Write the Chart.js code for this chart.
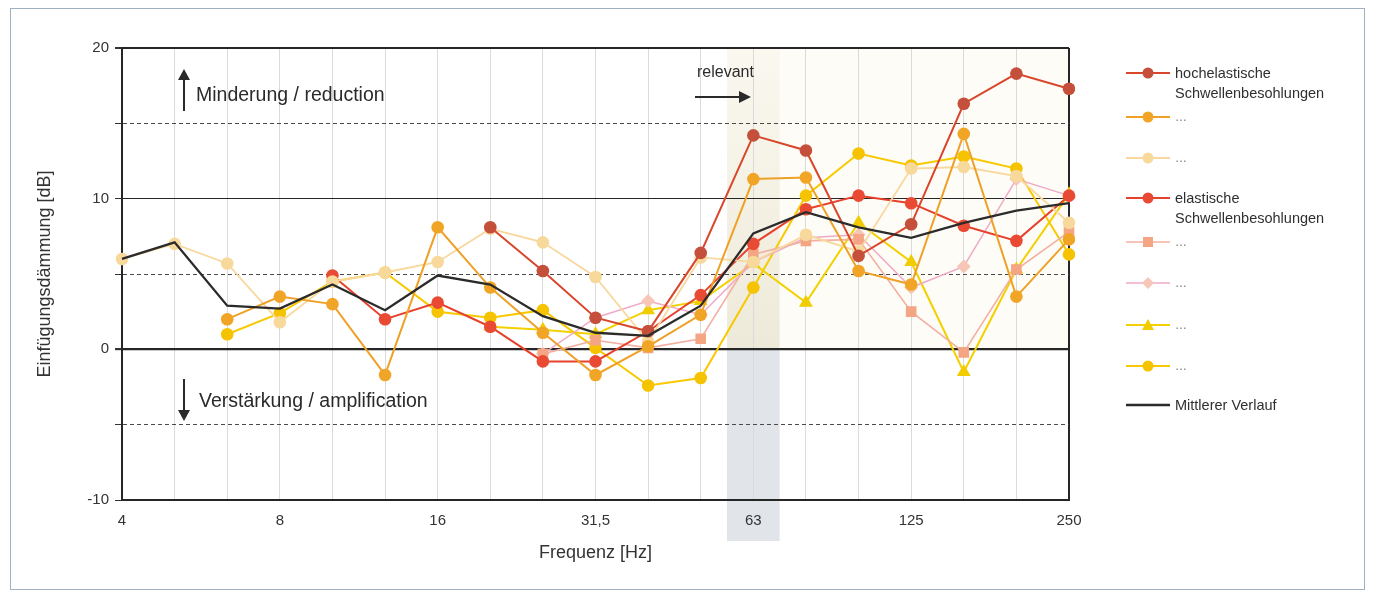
<!DOCTYPE html>
<html>
<head>
<meta charset="utf-8">
<script src="https://cdn.jsdelivr.net/npm/chart.js@4/dist/chart.umd.min.js"></script>
<style>
  html, body { margin: 0; padding: 0; background: #ffffff; }
  #wrap { position: relative; width: 1376px; height: 595px; overflow: hidden; font-family: "Liberation Sans", Arial, sans-serif; color: #2a2a2a; }
  #frame { position: absolute; left: 10px; top: 8px; width: 1355px; height: 582px; border: 1px solid #9fb0c2; box-sizing: border-box; pointer-events: none; }
  canvas { position: absolute; left: 0; top: 0; }
  .ann { position: absolute; white-space: nowrap; color: #2a2a2a; }
  .leg { position: absolute; left: 1175px; font-size: 14.5px; color: #2f2f2f; white-space: nowrap; line-height: 20px; }
  .legdots { color: #777; font-size: 12px; }
  svg.sample { position: absolute; left: 1124px; width: 48px; height: 16px; }
  svg.arrow { position: absolute; }
</style>
</head>
<body>
<div id="wrap">
  <canvas id="c" width="1376" height="595"></canvas>
  <div id="frame"></div>
  <div class="ann" style="left:196px; top:83px; font-size:19.5px;">Minderung / reduction</div>
  <div class="ann" style="left:199px; top:389px; font-size:19.5px;">Verstärkung / amplification</div>
  <div class="ann" style="left:697px; top:63px; font-size:16px;">relevant</div>
  <svg class="arrow" style="left:176px; top:66px;" width="16" height="46"><line x1="8" y1="12" x2="8" y2="45" stroke="#2a2a2a" stroke-width="2"/><polygon points="2,14 14,14 8,3" fill="#2a2a2a"/></svg>
  <svg class="arrow" style="left:176px; top:378px;" width="16" height="46"><line x1="8" y1="1" x2="8" y2="34" stroke="#2a2a2a" stroke-width="2"/><polygon points="2,32 14,32 8,43" fill="#2a2a2a"/></svg>
  <svg class="arrow" style="left:694px; top:90px;" width="60" height="14"><line x1="1" y1="7" x2="48" y2="7" stroke="#2a2a2a" stroke-width="2"/><polygon points="45,1 45,13 57,7" fill="#2a2a2a"/></svg>
  <div id="legend"></div>
</div>
<script>
// ---- data ----
const categories = ['4','5','6,3','8','10','12,5','16','20','25','31,5','40','50','63','80','100','125','160','200','250'];
const xTickLabels = ['4','8','16','31,5','63','125','250'];
const yTickLabels = [-10, 0, 10, 20];
const relevantBand = '63';

const hochelastisch = [null,null,null,null,null,null,null, 8.1, 5.2, 2.1, 1.2, 6.4, 14.2, 13.2, 6.2, 8.3, 16.3, 18.3, 17.3];
const hochOrange    = [null,null, 2.0, 3.5, 3.0, -1.7, 8.1, 4.1, 1.1, -1.7, 0.2, 2.3, 11.3, 11.4, 5.2, 4.3, 14.3, 3.5, 7.3];
const hochBeige     = [6.0, 7.0, 5.7, 1.8, 4.5, 5.1, 5.8, 8.0, 7.1, 4.8, 0.5, 6.1, 5.8, 7.6, 6.5, 12.0, 12.1, 11.5, 8.4];
const elastisch     = [null,null,null,null, 4.9, 2.0, 3.1, 1.5, -0.8, -0.8, 1.2, 3.6, 7.0, 9.3, 10.2, 9.7, 8.2, 7.2, 10.2];
const elastSquare   = [null,null,null,null,null,null,null,null, -0.3, 0.6, 0.1, 0.7, 6.3, 7.2, 7.3, 2.5, -0.2, 5.3, 7.8];
const elastDiamond  = [null,null,null,null,null,null,null,null, -0.3, 2.1, 3.2, 2.3, 5.8, 7.4, 7.6, 4.1, 5.5, 11.3, 10.2];
const elastTriangle = [null,null,null,null,null,null,null, 1.5, 1.3, 1.0, 2.6, 3.2, 5.7, 3.1, 8.4, 5.8, -1.5, 5.3, 10.3];
const elastGold     = [null,null, 1.0, 2.4, 4.5, 5.1, 2.5, 2.1, 2.6, 0.1, -2.4, -1.9, 4.1, 10.2, 13.0, 12.2, 12.8, 12.0, 6.3];
const mittel        = [6.0, 7.1, 2.9, 2.7, 4.3, 2.6, 4.9, 4.3, 2.2, 1.1, 0.9, 2.9, 7.7, 9.1, 8.1, 7.4, 8.4, 9.2, 9.7];

// ---- series styling ----
const seriesDefs = [
  { label: ['hochelastische', 'Schwellenbesohlungen'], data: hochelastisch, line: '#d9462c', fill: '#c4503c', shape: 'circle', r: 6.3, w: 2 },
  { label: ['…'], data: hochOrange, line: '#eea126', fill: '#f1a526', shape: 'circle', r: 6.3, w: 2 },
  { label: ['…'], data: hochBeige, line: '#f8d89e', fill: '#f8d99c', shape: 'circle', r: 6.3, w: 1.8 },
  { label: ['elastische', 'Schwellenbesohlungen'], data: elastisch, line: '#e6412c', fill: '#e84a34', shape: 'circle', r: 6.3, w: 2 },
  { label: ['…'], data: elastSquare, line: '#f3b0a2', fill: '#f4a584', shape: 'rect', r: 7.5, w: 1.6 },
  { label: ['…'], data: elastDiamond, line: '#eeaac6', fill: '#f6c7b6', shape: 'rectRot', r: 7, w: 1.5 },
  { label: ['…'], data: elastTriangle, line: '#f3d000', fill: '#f0cc00', shape: 'triangle', r: 8, w: 2 },
  { label: ['…'], data: elastGold, line: '#f8c900', fill: '#f5c300', shape: 'circle', r: 6.3, w: 2 },
  { label: ['Mittlerer Verlauf'], data: mittel, line: '#2b2b2b', fill: '#2b2b2b', shape: false, r: 0, w: 2.3 }
];

const datasets = seriesDefs.map((s, i) => ({
  label: s.label.join(' '),
  data: s.data,
  borderColor: s.line,
  backgroundColor: s.fill,
  borderWidth: s.w,
  pointStyle: s.shape || 'circle',
  pointRadius: s.r,
  pointBorderWidth: 0,
  pointBackgroundColor: s.fill,
  tension: 0,
  spanGaps: false,
  order: s.shape ? i : -1
}));

// ---- background band plugin ----
const bandPlugin = {
  id: 'band',
  beforeDraw(chart) {
    const { ctx, chartArea, scales } = chart;
    const x = scales.x, y = scales.y;
    const idx = categories.indexOf(relevantBand);
    const step = x.getPixelForValue(1) - x.getPixelForValue(0);
    const x0 = x.getPixelForValue(idx) - step / 2;
    const x1 = x.getPixelForValue(idx) + step / 2;
    const y0 = y.getPixelForValue(0);
    ctx.save();
    ctx.fillStyle = 'rgba(250,245,220,0.25)';
    ctx.fillRect(x0, chartArea.top, chartArea.right - x0, y0 - chartArea.top);
    const g = ctx.createLinearGradient(0, chartArea.top, 0, y0);
    g.addColorStop(0, '#faf8ef');
    g.addColorStop(1, '#eeeada');
    ctx.fillStyle = g;
    ctx.fillRect(x0, chartArea.top, x1 - x0, y0 - chartArea.top);
    ctx.fillStyle = '#e1e5ea';
    ctx.fillRect(x0, y0, x1 - x0, 541 - y0);
    ctx.restore();
  }
};

const solidY = v => v % 10 === 0;

new Chart(document.getElementById('c'), {
  type: 'line',
  data: { labels: categories, datasets },
  plugins: [bandPlugin],
  options: {
    responsive: false,
    animation: false,
    layout: { padding: { top: 48, right: 307, left: 0, bottom: 0 } },
    plugins: { legend: { display: false }, tooltip: { enabled: false } },
    scales: {
      x: {
        type: 'category',
        offset: false,
        afterFit: s => { s.height = 95; },
        grid: {
          drawTicks: false,
          color: c => (c.index === categories.length - 1 ? '#262626' : '#dadada'),
          lineWidth: c => (c.index === categories.length - 1 ? 2 : 1)
        },
        border: { color: '#262626', width: 2 },
        ticks: {
          autoSkip: false, maxRotation: 0, padding: 12,
          color: '#333', font: { family: 'Liberation Sans', size: 15 },
          callback: (v, i) => (xTickLabels.includes(categories[i]) ? categories[i] : '')
        },
        title: { display: true, text: 'Frequenz [Hz]', color: '#333', font: { family: 'Liberation Sans', size: 18 }, padding: { top: 0, bottom: 31 } }
      },
      y: {
        min: -10, max: 20,
        afterFit: s => { s.width = 122; },
        grid: {
          tickLength: 7,
          tickColor: '#333',
          color: c => (c.tick && solidY(c.tick.value) ? '#262626' : '#4a4a4a'),
          lineWidth: c => (c.tick && c.tick.value === 0 ? 2.2 : (c.tick && c.tick.value === 20 ? 2 : 1))
        },
        border: { color: '#262626', width: 2, dash: c => (c.tick && !solidY(c.tick.value) ? [4, 3] : []) },
        ticks: {
          stepSize: 5, padding: 6, color: '#333', font: { family: 'Liberation Sans', size: 15 },
          callback: v => (yTickLabels.includes(v) ? String(v) : '')
        },
        title: { display: true, text: 'Einfügungsdämmung [dB]', color: '#333', font: { family: 'Liberation Sans', size: 18 }, padding: { top: 34, bottom: 0 } }
      }
    }
  }
});

// ---- legend (HTML) ----
const legendRows = [73, 117, 158, 198, 242, 283, 325, 366, 405];
const leg = document.getElementById('legend');
seriesDefs.forEach((s, i) => {
  const cy = legendRows[i];
  let marker = '';
  if (s.shape === 'circle') marker = `<circle cx="24" cy="8" r="5.5" fill="${s.fill}"/>`;
  else if (s.shape === 'rect') marker = `<rect x="19" y="3" width="10" height="10" fill="${s.fill}"/>`;
  else if (s.shape === 'rectRot') marker = `<polygon points="24,2 30,8 24,14 18,8" fill="${s.fill}"/>`;
  else if (s.shape === 'triangle') marker = `<polygon points="24,2 30,13 18,13" fill="${s.fill}"/>`;
  const svg = document.createElementNS('http://www.w3.org/2000/svg', 'svg');
  svg.setAttribute('class', 'sample');
  svg.style.top = (cy - 8) + 'px';
  svg.innerHTML = `<line x1="2" y1="8" x2="46" y2="8" stroke="${s.line}" stroke-width="${s.w}"/>` + marker;
  leg.appendChild(svg);
  const d = document.createElement('div');
  d.className = 'leg' + (s.label[0] === '…' ? ' legdots' : '');
  d.style.top = (cy - 10) + 'px';
  d.innerHTML = s.label.join('<br>');
  leg.appendChild(d);
});
</script>
</body>
</html>
